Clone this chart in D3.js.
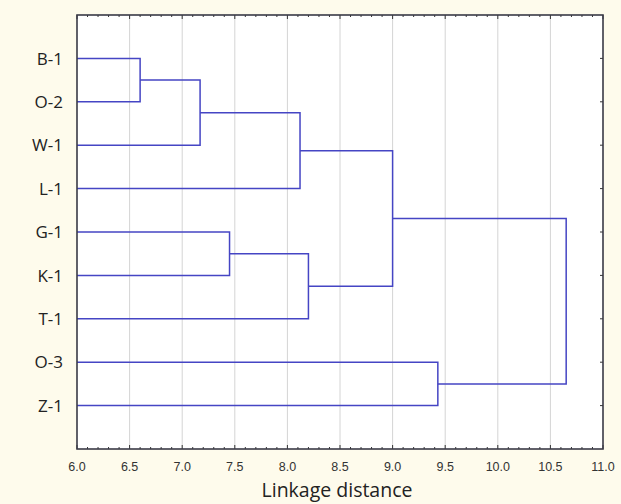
<!DOCTYPE html>
<html>
<head>
<meta charset="utf-8">
<script src="https://cdn.jsdelivr.net/npm/d3@7"></script>
<style>
  body { margin: 0; background: #fefbec; }
</style>
</head>
<body>
<div id="chart"></div>
<script>
// leaves top to bottom
var labels = ["B-1", "O-2", "W-1", "L-1", "G-1", "K-1", "T-1", "O-3", "Z-1"];
// merges: [child a, child b, linkage distance]; ids >= 9 are earlier merges
var merges = [
  [0, 1, 6.6],
  [9, 2, 7.17],
  [10, 3, 8.12],
  [4, 5, 7.45],
  [12, 6, 8.2],
  [11, 13, 9.0],
  [7, 8, 9.43],
  [14, 15, 10.65]
];
var xTicks = [6.0, 6.5, 7.0, 7.5, 8.0, 8.5, 9.0, 9.5, 10.0, 10.5, 11.0];

var width = 621, height = 504;
var margin = {top: 15, right: 18, bottom: 55, left: 77};

var svg = d3.select("#chart").append("svg")
    .attr("width", width)
    .attr("height", height);

var w = width - margin.left - margin.right,
    h = height - margin.top - margin.bottom;

var g = svg.append("g").attr("transform", "translate(" + margin.left + "," + margin.top + ")");

var x = d3.scaleLinear().domain([6, 11]).range([0, w]);
var y = d3.scaleLinear().domain([0, labels.length + 1]).range([0, h]);

g.append("rect").attr("width", w).attr("height", h).attr("fill", "#fff");

// grid
g.selectAll(".grid").data(xTicks.slice(1, -1)).enter().append("line")
    .attr("x1", d => x(d)).attr("x2", d => x(d))
    .attr("y1", 0).attr("y2", h)
    .attr("stroke", "#d4d4d4").attr("stroke-width", 1);

// node positions
var nodes = labels.map((l, i) => ({x: 6, y: i + 1}));
merges.forEach(function (m) {
  var a = nodes[m[0]], b = nodes[m[1]];
  nodes.push({x: m[2], y: (a.y + b.y) / 2, a: a, b: b});
});

g.selectAll(".link").data(nodes.filter(n => n.a)).enter().append("path")
    .attr("d", function (n) {
      return "M" + x(n.a.x) + "," + y(n.a.y) +
             "H" + x(n.x) + "V" + y(n.b.y) + "H" + x(n.b.x);
    })
    .attr("fill", "none")
    .attr("stroke", "#4545c4")
    .attr("stroke-width", 1.5);

// axes (ticks inward)
var minor = d3.range(60, 111).map(d => d / 10);
function ticksX(yPos, dir) {
  g.append("g").selectAll("line").data(minor).enter().append("line")
      .attr("x1", d => x(d)).attr("x2", d => x(d))
      .attr("y1", yPos)
      .attr("y2", d => yPos + dir * (Math.round(d * 10) % 5 === 0 ? 4 : 2))
      .attr("stroke", "#333").attr("stroke-width", 1);
}
ticksX(h, -1);
ticksX(0, 1);

g.append("g").selectAll("line").data(labels).enter().append("line")
    .attr("x1", w).attr("x2", w - 3)
    .attr("y1", (d, i) => y(i + 1)).attr("y2", (d, i) => y(i + 1))
    .attr("stroke", "#333").attr("stroke-width", 1);

g.append("rect").attr("width", w).attr("height", h)
    .attr("fill", "none").attr("stroke", "#3a3a46").attr("stroke-width", 1.6);

// tick labels
g.selectAll(".xl").data(xTicks).enter().append("text")
    .attr("x", d => x(d)).attr("y", h + 22)
    .attr("text-anchor", "middle")
    .attr("font-family", "Liberation Sans, Arial, sans-serif")
    .attr("font-size", 12.5)
    .attr("fill", "#333")
    .text(d => d.toFixed(1));

g.selectAll(".yl").data(labels).enter().append("text")
    .attr("x", -14).attr("y", (d, i) => y(i + 1))
    .attr("dy", "0.36em")
    .attr("text-anchor", "end")
    .attr("font-family", "Open Sans, sans-serif")
    .attr("font-size", 17)
    .attr("fill", "#222")
    .text(d => d);

svg.append("text")
    .attr("x", 337).attr("y", 497)
    .attr("text-anchor", "middle")
    .attr("font-family", "Open Sans, sans-serif")
    .attr("font-size", 19.5)
    .attr("fill", "#222")
    .text("Linkage distance");
</script>
</body>
</html>
